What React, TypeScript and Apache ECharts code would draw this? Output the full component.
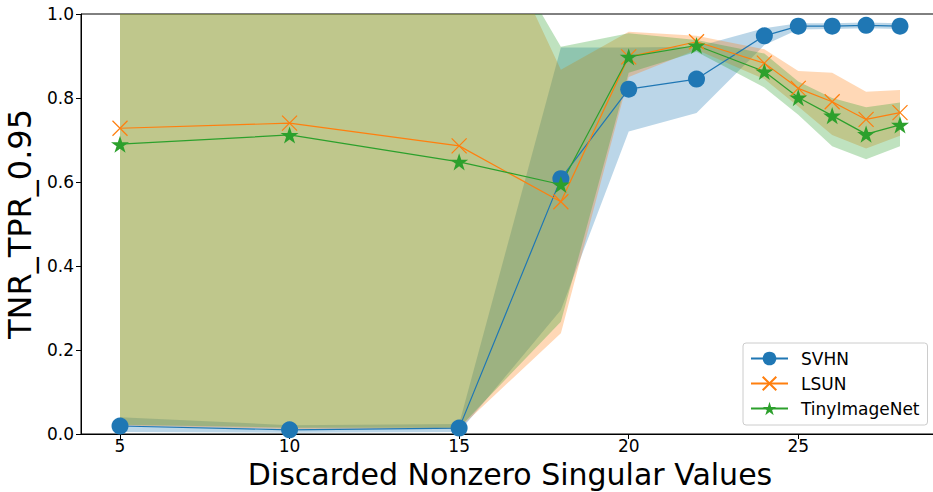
import React, { useEffect, useRef } from "react";
import * as echarts from "echarts";

const xValues = [5, 10, 15, 18, 20, 22, 24, 25, 26, 27, 28];
const xTicks = [5, 10, 15, 20, 25];

const seriesNames = ["SVHN", "LSUN", "TinyImageNet"];
const colors = ["#1f77b4", "#ff7f0e", "#2ca02c"];
const bandColors = ["rgba(31,119,180,0.3)", "rgba(255,127,14,0.3)", "rgba(44,160,44,0.3)"];

const svhnMean = [0.019, 0.01, 0.014, 0.608, 0.821, 0.845, 0.948, 0.971, 0.971, 0.973, 0.971];
const svhnLower = [0.005, 0.003, 0.005, 0.295, 0.72, 0.764, 0.926, 0.963, 0.964, 0.966, 0.964];
const svhnUpper = [0.04, 0.021, 0.024, 0.92, 0.92, 0.922, 0.966, 0.978, 0.978, 0.98, 0.978];

const lsunMean = [0.728, 0.74, 0.686, 0.553, 0.898, 0.934, 0.883, 0.823, 0.791, 0.749, 0.765];
const lsunLower = [0.02, 0.012, 0.013, 0.24, 0.85, 0.915, 0.845, 0.78, 0.712, 0.68, 0.71];
const lsunUpper = [1.44, 1.47, 1.385, 0.867, 0.958, 0.948, 0.916, 0.864, 0.86, 0.815, 0.819];

const tinyMean = [0.69, 0.712, 0.648, 0.594, 0.898, 0.925, 0.863, 0.801, 0.758, 0.714, 0.736];
const tinyLower = [0.022, 0.015, 0.015, 0.267, 0.86, 0.91, 0.825, 0.76, 0.685, 0.654, 0.685];
const tinyUpper = [1.36, 1.4, 1.337, 0.922, 0.954, 0.938, 0.906, 0.839, 0.8, 0.778, 0.789];

const means = [svhnMean, lsunMean, tinyMean];
const lowers = [svhnLower, lsunLower, tinyLower];
const uppers = [svhnUpper, lsunUpper, tinyUpper];

const FONT = "DejaVu Sans";

function starPath(): string {
  const pts: string[] = [];
  for (let i = 0; i < 10; i++) {
    const r = i % 2 === 0 ? 50 : 50 * 0.381966;
    const a = ((-90 + i * 36) * Math.PI) / 180;
    pts.push(`${(50 + r * Math.cos(a)).toFixed(2)},${(50 + r * Math.sin(a)).toFixed(2)}`);
  }
  return "path://M" + pts.join("L") + "Z";
}

const symbols = ["circle", "path://M0,0L10,10M10,0L0,10", starPath()];
const symbolSizes = [17, 15, 18];

type Pt = number[];
function clipPoly(pts: Pt[], x0: number, y0: number, x1: number, y1: number): Pt[] {
  const clipEdge = (input: Pt[], inside: (p: Pt) => boolean, inter: (a: Pt, b: Pt) => Pt) => {
    const out: Pt[] = [];
    for (let i = 0; i < input.length; i++) {
      const cur = input[i];
      const prev = input[(i + input.length - 1) % input.length];
      const ci = inside(cur);
      const pi = inside(prev);
      if (ci) {
        if (!pi) out.push(inter(prev, cur));
        out.push(cur);
      } else if (pi) {
        out.push(inter(prev, cur));
      }
    }
    return out;
  };
  const ix = (xv: number) => (a: Pt, b: Pt) => {
    const t = (xv - a[0]) / (b[0] - a[0]);
    return [xv, a[1] + t * (b[1] - a[1])];
  };
  const iy = (yv: number) => (a: Pt, b: Pt) => {
    const t = (yv - a[1]) / (b[1] - a[1]);
    return [a[0] + t * (b[0] - a[0]), yv];
  };
  let p = pts;
  p = clipEdge(p, (q) => q[0] >= x0, ix(x0));
  p = clipEdge(p, (q) => q[0] <= x1, ix(x1));
  p = clipEdge(p, (q) => q[1] >= y0, iy(y0));
  p = clipEdge(p, (q) => q[1] <= y1, iy(y1));
  return p;
}

function bandSeries(k: number): any {
  return {
    type: "custom",
    name: seriesNames[k] + " band",
    z: 1,
    silent: true,
    encode: { x: 0, y: [1, 2] },
    data: xValues.map((x, i) => [x, lowers[k][i], uppers[k][i]]),
    renderItem: (params: any, api: any) => {
      if (params.dataIndexInside !== 0) return null;
      const n = params.dataInsideLength;
      const up: Pt[] = [];
      const lo: Pt[] = [];
      for (let i = 0; i < n; i++) {
        const x = api.value(0, i);
        up.push(api.coord([x, api.value(2, i)]));
        lo.push(api.coord([x, api.value(1, i)]));
      }
      const poly = up.concat(lo.reverse());
      const cs = params.coordSys;
      const clipped = clipPoly(poly, cs.x, cs.y, cs.x + cs.width, cs.y + cs.height);
      return {
        type: "polygon",
        shape: { points: clipped },
        style: { fill: bandColors[k], stroke: "none" },
      };
    },
  };
}

function lineSeries(k: number): any {
  return {
    type: "line",
    name: seriesNames[k],
    z: 3,
    data: xValues.map((x, i) => [x, means[k][i]]),
    symbol: symbols[k],
    symbolSize: symbolSizes[k],
    symbolKeepAspect: true,
    showSymbol: true,
    lineStyle: { color: colors[k], width: 1.2 },
    itemStyle: { color: colors[k], borderColor: colors[k], borderWidth: k === 1 ? 1.2 : 0 },
    emphasis: { disabled: true },
  };
}

export default function App() {
  const ref = useRef<HTMLDivElement>(null);
  useEffect(() => {
    if (!ref.current) return;
    const chart = echarts.init(ref.current, undefined, { renderer: "svg" });
    chart.setOption({
      animation: false,
      textStyle: { fontFamily: FONT },
      grid: {
        left: 81,
        top: 14,
        width: 858,
        height: 420,
        show: true,
        borderColor: "#000",
        borderWidth: 1,
        backgroundColor: "transparent",
        containLabel: false,
        outerBoundsMode: "none",
      },
      legend: {
        data: seriesNames,
        orient: "vertical",
        left: 743,
        top: 343,
        padding: [7, 8, 8, 7],
        itemGap: 8,
        itemWidth: 37,
        itemHeight: 17,
        backgroundColor: "rgba(255,255,255,0.8)",
        borderColor: "#cccccc",
        borderWidth: 1,
        borderRadius: 3,
        textStyle: { fontSize: 17, color: "#000", fontFamily: FONT, padding: [0, 0, 0, 8] },
      },
      xAxis: {
        type: "value",
        min: 3.85,
        max: 29.15,
        name: "Discarded Nonzero Singular Values",
        nameLocation: "middle",
        nameMoveOverlap: false,
        nameGap: 26.5,
        nameTextStyle: { fontSize: 30, lineHeight: 28, color: "#000", fontFamily: FONT },
        axisLine: { show: true, lineStyle: { color: "#000", width: 1 } },
        axisTick: { show: true, customValues: xTicks, length: 5, lineStyle: { color: "#000" } },
        axisLabel: { customValues: xTicks, fontSize: 17, color: "#000", margin: 3, fontFamily: FONT },
        splitLine: { show: false },
      },
      yAxis: {
        type: "value",
        min: 0,
        max: 1,
        interval: 0.2,
        name: "TNR_TPR_0.95",
        nameLocation: "middle",
        nameGap: 38,
        nameTextStyle: { fontSize: 32, color: "#000", fontFamily: FONT },
        axisLine: { show: true, lineStyle: { color: "#000", width: 1 } },
        axisTick: { show: true, length: 5, lineStyle: { color: "#000" } },
        axisLabel: {
          fontSize: 17,
          color: "#000",
          margin: 7,
          fontFamily: FONT,
          formatter: (v: number) => v.toFixed(1),
        },
        splitLine: { show: false },
      },
      series: [bandSeries(0), bandSeries(1), bandSeries(2), lineSeries(0), lineSeries(1), lineSeries(2)],
    });
    return () => chart.dispose();
  }, []);
  return (
    <div
      ref={ref}
      style={{ position: "absolute", left: 0, top: 0, width: 933, height: 492, background: "#fff" }}
    />
  );
}
